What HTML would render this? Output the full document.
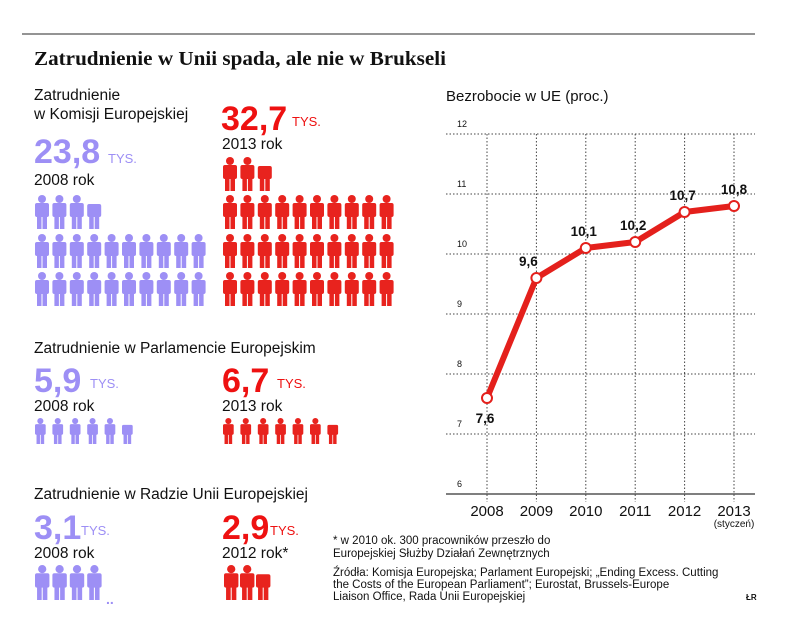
<!DOCTYPE html>
<html><head><meta charset="utf-8"><style>
body{margin:0;background:#fff;}
svg{display:block;font-family:"Liberation Sans",sans-serif;}
</style></head><body>
<svg id="root" width="805" height="629" viewBox="0 0 805 629">
<line x1="22" y1="34" x2="755" y2="34" stroke="#555" stroke-width="1.2"/>
<text x="34" y="65" font-family="Liberation Serif,serif" font-weight="bold" font-size="20" fill="#111" textLength="412" lengthAdjust="spacingAndGlyphs">Zatrudnienie w Unii spada, ale nie w Brukseli</text>

<g fill="#111">
<text x="34" y="100" font-size="15.5">Zatrudnienie</text>
<text x="34" y="119" font-size="15.5">w Komisji Europejskiej</text>
<text x="34" y="163" font-size="34" font-weight="bold" fill="#9d8ff5">23,8</text>
<text x="108" y="163" font-size="13" fill="#9d8ff5">TYS.</text>
<text x="34" y="185" font-size="15.5">2008 rok</text>
<text x="221" y="130" font-size="34" font-weight="bold" fill="#ee1111">32,7</text>
<text x="292" y="126" font-size="13" fill="#ee1111">TYS.</text>
<text x="222" y="149" font-size="15.5">2013 rok</text>
</g>

<g fill="#111">
<text x="34" y="353" font-size="15.5">Zatrudnienie w Parlamencie Europejskim</text>
<text x="34" y="392" font-size="34" font-weight="bold" fill="#9d8ff5">5,9</text>
<text x="90" y="388" font-size="13" fill="#9d8ff5">TYS.</text>
<text x="34" y="411" font-size="15.5">2008 rok</text>
<text x="222" y="392" font-size="34" font-weight="bold" fill="#ee1111">6,7</text>
<text x="277" y="388" font-size="13" fill="#ee1111">TYS.</text>
<text x="222" y="411" font-size="15.5">2013 rok</text>
</g>

<g fill="#111">
<text x="34" y="499" font-size="15.5">Zatrudnienie w Radzie Unii Europejskiej</text>
<text x="34" y="539" font-size="34" font-weight="bold" fill="#9d8ff5">3,1</text>
<text x="81" y="535" font-size="13" fill="#9d8ff5">TYS.</text>
<text x="34" y="558" font-size="15.5">2008 rok</text>
<text x="222" y="539" font-size="34" font-weight="bold" fill="#ee1111">2,9</text>
<text x="270" y="535" font-size="13" fill="#ee1111">TYS.</text>
<text x="222" y="558" font-size="15.5">2012 rok*</text>
<text x="106" y="604" font-size="14" font-weight="bold" fill="#9d8ff5">..</text>
</g>

<g id="icons"></g>

<g font-size="11.5" fill="#111">
<text x="333" y="544">* w 2010 ok. 300 pracowników przeszło do</text>
<text x="333" y="557">Europejskiej Służby Działań Zewnętrznych</text>
<text x="333" y="576">Źródła: Komisja Europejska; Parlament Europejski; „Ending Excess. Cutting</text>
<text x="333" y="588">the Costs of the European Parliament”; Eurostat, Brussels-Europe</text>
<text x="333" y="600">Liaison Office, Rada Unii Europejskiej</text>
<text x="746" y="600" font-size="8" font-weight="bold">ŁR</text>
</g>

<text x="446" y="101" font-size="15" fill="#111">Bezrobocie w UE (proc.)</text>
<g id="chart"></g>
</svg>
<script>
const years = ["2008","2009","2010","2011","2012","2013"];
const rates = [7.6, 9.6, 10.1, 10.2, 10.7, 10.8];
const rateLabels = ["7,6","9,6","10,1","10,2","10,7","10,8"];
const yTicks = [6,7,8,9,10,11,12];

const NS="http://www.w3.org/2000/svg";
function mk(tag, attrs, parent){const e=document.createElementNS(NS,tag);for(const k in attrs)e.setAttribute(k,attrs[k]);parent.appendChild(e);return e;}
const chart=document.getElementById('chart');
const X0=487, XS=49.4, Y6=494, YS=60;
const xs=i=>X0+i*XS;
const ys=v=>Y6-(v-6)*YS;
yTicks.forEach(t=>{
  if(t>6){const l=mk('line',{x1:446,x2:755,y1:ys(t),y2:ys(t),stroke:'#444','stroke-width':1,'stroke-dasharray':'1.5,2'},chart);
  
  }
  const tx=mk('text',{x:457,y:ys(t)-7,'font-size':9,fill:'#111'},chart);tx.textContent=t;
  
  
});
years.forEach((y,i)=>{
  const l=mk('line',{x1:xs(i),x2:xs(i),y1:ys(12),y2:ys(6)+8,stroke:'#444','stroke-width':1,'stroke-dasharray':'1.5,2'},chart);
  
  
  const tx=mk('text',{x:xs(i),y:516,'font-size':15,fill:'#111','text-anchor':'middle'},chart);tx.textContent=y;
  
  
});
const st=mk('text',{x:734,y:527,'font-size':10,fill:'#111','text-anchor':'middle'},chart);st.textContent='(styczeń)';


const ax=mk('line',{x1:446,x2:755,y1:ys(6),y2:ys(6),stroke:'#555','stroke-width':1.5},chart);


const pl=mk('polyline',{points:rates.map((v,i)=>xs(i)+','+ys(v)).join(' '),fill:'none',stroke:'#e4201c','stroke-width':6,'stroke-linejoin':'round'},chart);


rates.forEach((v,i)=>{
  const c=mk('circle',{cx:xs(i),cy:ys(v),r:5,fill:'#fff',stroke:'#e4201c','stroke-width':2},chart);
  
  
  const below=i===0;
  const t=mk('text',{x:xs(i)+(i===5?0:(i===1?-8:-2)),y:below?ys(v)+25:ys(v)-12,'font-size':13.5,'font-weight':'bold',fill:'#111','text-anchor':'middle'},chart);
  t.textContent=rateLabels[i];
  
  
});

const icons=document.getElementById('icons');
function person(x,y,h,color,partial){
  const g=mk('g',{fill:color},icons);
  const s=h/34, w=14*s;
  if(!partial){mk('circle',{cx:x+w/2,cy:y+4*s,r:4*s},g);}
  const by=partial?y+9*s:y+8*s;
  mk('rect',{x:x,y:by,width:w,height:(22*s)-(by-y),rx:2*s},g);
  mk('rect',{x:x+2*s,y:y+20*s,width:4.5*s,height:14*s},g);
  mk('rect',{x:x+7.5*s,y:y+20*s,width:4.5*s,height:14*s},g);
  return g;
}
function row(x0,y,n,h,pitch,color,partialLast,name){
  for(let i=0;i<n;i++){
    const g=person(x0+i*pitch,y,h,color,partialLast&&i===n-1);
    
    
  }
}
const P='#9d8ff5', R='#e8231e';
row(35,195,4,34,17.4,P,true,'commission-2008-icon');
row(35,234,10,34,17.4,P,false,'commission-2008-icon');
row(35,272,10,34,17.4,P,false,'commission-2008-icon');
row(223,157,3,34,17.4,R,true,'commission-2013-icon');
row(223,195,10,34,17.4,R,false,'commission-2013-icon');
row(223,234,10,34,17.4,R,false,'commission-2013-icon');
row(223,272,10,34,17.4,R,false,'commission-2013-icon');
row(35,418,6,26,17.4,P,true,'parliament-2008-icon');
row(223,418,7,26,17.4,R,true,'parliament-2013-icon');
row(35,565,4,35,17.4,P,false,'council-2008-icon');
row(224,565,3,35,16,R,true,'council-2012-icon');
</script>
</body></html>
